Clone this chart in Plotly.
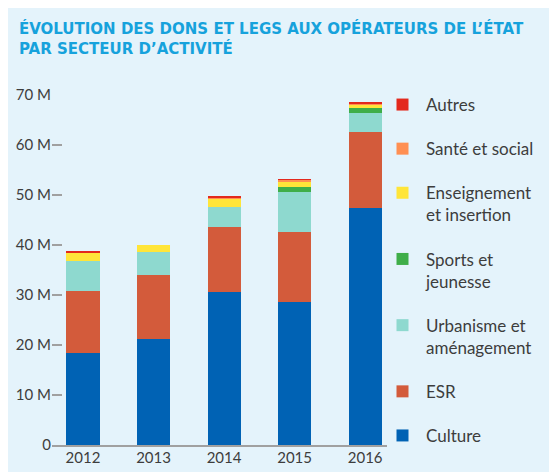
import plotly.graph_objects as go

years = ["2012", "2013", "2014", "2015", "2016"]
culture = [18.5, 21.2, 30.6, 28.7, 47.5]
esr = [12.4, 12.8, 13.1, 13.9, 15.2]
urbanisme = [6.0, 4.6, 4.0, 8.1, 3.7]
sports = [0, 0, 0, 1.0, 1.0]
enseignement = [1.5, 1.4, 1.5, 0.9, 0.7]
sante = [0.15, 0, 0.25, 0.45, 0.2]
autres = [0.15, 0, 0.2, 0.05, 0.15]

series_names = ["Culture", "ESR", "Urbanisme et<br>aménagement", "Sports et<br>jeunesse",
                "Enseignement<br>et insertion", "Santé et social", "Autres"]
series_values = [culture, esr, urbanisme, sports, enseignement, sante, autres]
series_colors = ["#0062b4", "#d35b3b", "#8ed9cf", "#3fae49", "#ffe539", "#ff8f52", "#e3291d"]

y_tick_vals = [0, 10, 20, 30, 40, 50, 60, 70]
y_tick_text = ["0", "10 M", "20 M", "30 M", "40 M", "50 M", "60 M", "70 M"]

W, H = 557, 472
L, R, T, B = 44, 379, 87, 437

fig = go.Figure()
n = len(series_names)
for i, (name, vals, col) in enumerate(zip(series_names, series_values, series_colors)):
    fig.add_trace(go.Bar(
        x=years, y=vals, name=name, marker=dict(color=col, line=dict(width=0)),
        width=0.47, legendgroup=name, legendrank=n - i,
    ))

fig.update_layout(
    width=W, height=H,
    margin=dict(l=L, r=W - R, t=T, b=H - B, pad=0, autoexpand=False),
    paper_bgcolor="#e4f3fb", plot_bgcolor="rgba(0,0,0,0)",
    barmode="stack",
    font=dict(family="Lato", color="#3d3d3d"),
    title=dict(
        text="ÉVOLUTION DES DONS ET LEGS AUX OPÉRATEURS DE L’ÉTAT<br>PAR SECTEUR D’ACTIVITÉ",
        x=11 / W, xanchor="left", xref="container",
        y=1 - 26 / H, yanchor="top", yref="container",
        font=dict(family="DejaVu Sans", size=15, color="#16a2dc", weight="bold"),
    ),
    showlegend=True,
    legend=dict(
        traceorder="grouped", tracegroupgap=19,
        x=371 / W, xanchor="left", xref="container",
        y=1 - 79 / H, yanchor="top", yref="container",
        font=dict(family="Lato", size=17, color="#3d3d3d"),
        bgcolor="rgba(0,0,0,0)", valign="top", itemclick=False,
        maxheight=1, itemwidth=37,
    ),
    xaxis=dict(
        type="category", range=[-0.44, 4.31],
        showline=True, linecolor="#a0a0a0", linewidth=1.5,
        ticks="", showgrid=False, zeroline=False, ticklabelstandoff=-2,
        tickfont=dict(family="Lato", size=15, color="#3d3d3d"),
    ),
    yaxis=dict(
        range=[0, 70], tickmode="array", tickvals=y_tick_vals, ticktext=y_tick_text,
        ticks="inside", ticklen=10, tickcolor="#a0a0a0", tickwidth=1.5,
        showgrid=False, zeroline=False, showline=False,
        tickfont=dict(family="Lato", size=15, color="#3d3d3d"),
    ),
)

fig.write_html("out.html")
